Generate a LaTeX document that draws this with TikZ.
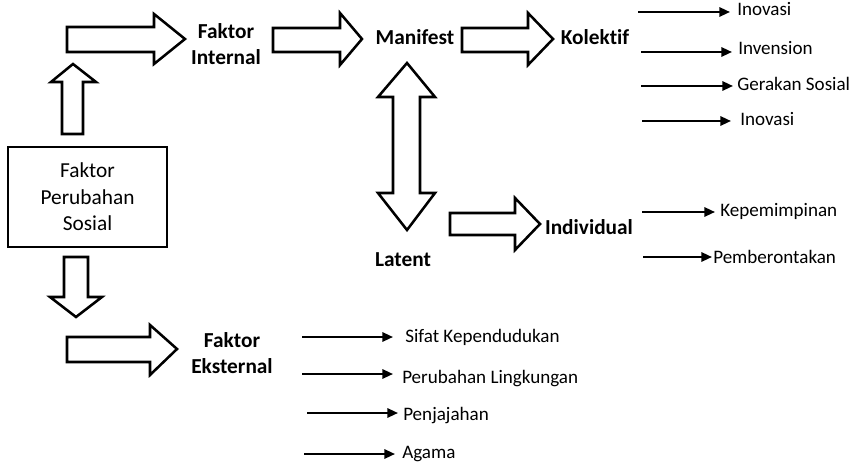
\documentclass[tikz,border=0pt]{standalone}
\usepackage{fontspec}
\setmainfont{Carlito}[RawFeature={-liga;-clig;-calt;-dlig}]
\usetikzlibrary{arrows.meta}
\tikzset{
  block/.style={draw=black, line width=1.9pt, fill=white, line join=miter},
  head/.style={font=\fontsize{16}{20}\selectfont\bfseries, inner sep=0pt, align=center},
  leaf/.style={font=\fontsize{14.3}{17}\selectfont, inner sep=0pt, anchor=base west},
  link/.style={line width=1.6pt, -{Triangle[length=8pt,width=7pt]}, shorten >=#1},
  framebox/.style={draw=black, line width=1.6pt, inner sep=0pt, align=center,
    minimum width=119.25pt, minimum height=75pt,
    font=\fontsize{16}{20}\selectfont},
}
\begin{document}
\begin{tikzpicture}[x=0.75pt,y=-0.75pt]
\useasboundingbox (0,0) rectangle (860,463);

% main box
\node[framebox] (fps) at (87.5,197) {Faktor\\Perubahan\\Sosial};

% headings
\node[head] (fin) at (226,44) {Faktor\\Internal};
\node[head, anchor=base] (man) at (415,45) {Manifest};
\node[head, anchor=base] (kol) at (595,45) {Kolektif};
\node[head, anchor=base] (lat) at (403,267) {Latent};
\node[head, anchor=base] (ind) at (589,235) {Individual};
\node[head] (fek) at (232,353) {Faktor\\Eksternal};

% hollow block arrows
\draw[block] (62,134) -- (62,82) -- (51,82) -- (73,64) -- (96,82) -- (83,82) -- (83,134) -- cycle;
\draw[block] (64,257) -- (88,257) -- (88,297) -- (102,297) -- (76,317) -- (50,297) -- (64,297) -- cycle;
\draw[block] (67,27) -- (154,27) -- (154,14) -- (185,39) -- (154,64) -- (154,52) -- (67,52) -- cycle;
\draw[block] (273,28) -- (340,28) -- (340,13) -- (362,39) -- (340,65) -- (340,52) -- (273,52) -- cycle;
\draw[block] (462,28) -- (528,28) -- (528,13) -- (553,39) -- (528,65) -- (528,52) -- (462,52) -- cycle;
\draw[block] (450,213) -- (515,213) -- (515,198) -- (540,224) -- (515,250) -- (515,235) -- (450,235) -- cycle;
\draw[block] (67,337) -- (150,337) -- (150,325) -- (177,349) -- (150,375) -- (150,362) -- (67,362) -- cycle;
\draw[block] (407,63) -- (435,97) -- (420,97) -- (420,193) -- (435,193) -- (407,230)
  -- (378,193) -- (393,193) -- (393,97) -- (378,97) -- cycle;

% collective outcomes
\coordinate (k1) at (638,12);
\coordinate (k2) at (641,52);
\coordinate (k3) at (641,86);
\coordinate (k4) at (642,121);
\node[leaf] (ino1) at (737,16) {Inovasi};
\node[leaf] (inv) at (738,55) {Invension};
\node[leaf] (ger) at (737,91) {Gerakan Sosial};
\node[leaf] (ino2) at (740,126) {Inovasi};
\draw[link=5.25pt] (k1) -- (k1 -| ino1.west);
\draw[link=4.5pt] (k2) -- (k2 -| inv.west);
\draw[link=3pt] (k3) -- (k3 -| ger.west);
\draw[link=6.75pt] (k4) -- (k4 -| ino2.west);

% individual outcomes
\coordinate (i1) at (642,212);
\coordinate (i2) at (643,257);
\node[leaf] (kep) at (720,217) {Kepemimpinan};
\node[leaf] (pem) at (713,263) {Pemberontakan};
\draw[link=3.75pt] (i1) -- (i1 -| kep.west);
\draw[link=0.75pt] (i2) -- (i2 -| pem.west);

% external factors
\coordinate (e1) at (302,337);
\coordinate (e2) at (302,374);
\coordinate (e3) at (307,413);
\coordinate (e4) at (304,454);
\node[leaf] (sif) at (405,342) {Sifat Kependudukan};
\node[leaf] (pl) at (402,383) {Perubahan Lingkungan};
\node[leaf] (pen) at (403,420) {Penjajahan};
\node[leaf] (aga) at (402,458) {Agama};
\draw[link=9pt] (e1) -- (e1 -| sif.west);
\draw[link=6.75pt] (e2) -- (e2 -| pl.west);
\draw[link=3.75pt] (e3) -- (e3 -| pen.west);
\draw[link=5.25pt] (e4) -- (e4 -| aga.west);
\end{tikzpicture}
\end{document}
